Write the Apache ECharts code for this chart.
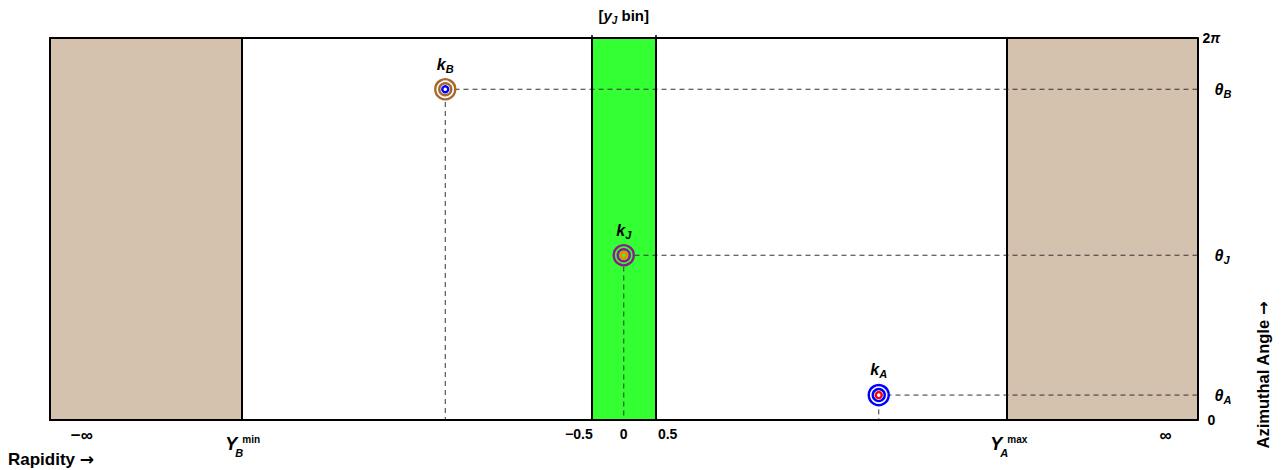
<!DOCTYPE html>
<html>
<head>
<meta charset="utf-8">
<script src="https://cdn.jsdelivr.net/npm/echarts@6/dist/echarts.min.js"></script>
<style>
  html, body { margin: 0; padding: 0; background: #ffffff; }
  #chart { width: 1285px; height: 470px; }
</style>
</head>
<body>
<div id="chart"></div>
<script>
// Particles in the (rapidity, azimuthal angle) plane
const particleNames = ['B', 'J', 'A'];
const particleRapidity = [-2.8, 0, 4];
const particleAzimuth = [5.44, 2.71, 0.41];

// Rapidity layout: drawn extent (stands for ±∞), acceptance limits, jet bin
const rapidityRange = [-9, 9];
const rapidityLimits = [-6, 6];
const limitSubscripts = ['B', 'A'];
const limitSuperscripts = ['min', 'max'];
const jetBin = [-0.5, 0.5];

// Rapidity tick labels
const rapidityTicks = [-8.5, -0.5, 0, 0.5, 8.5];
const rapidityTickLabels = ['−∞', '−0.5', '0', '0.5', '∞'];

// Azimuthal range
const azimuthRange = [0, 2 * Math.PI];

// Marker colours: outer rings, inner core, backdrop behind the rings
const ringColors = ['#A8692E', '#8E1A8E', '#0000FF'];
const coreColors = ['#0000FF', '#FF8000', '#FF0000'];
const backdropColors = ['#FFFFFF', '#33FF33', '#FFFFFF'];

const FONT = '"Liberation Sans", Arial, Helvetica, sans-serif';
const ARROW_FONT = '"DejaVu Sans", "Liberation Sans", sans-serif';
const BROWN = '#D5C2AE';
const GREEN = '#33FF33';

const points = particleNames.map((n, i) => [particleRapidity[i], particleAzimuth[i]]);
const azimuthTicks = [azimuthRange[0]].concat(particleAzimuth, [azimuthRange[1]]);

function azimuthLabel(value) {
  if (value === azimuthRange[0]) return '{z|0}';
  if (value === azimuthRange[1]) return '{n|2}{p|π}';
  const i = particleAzimuth.indexOf(value);
  return '{t|θ}{s|' + particleNames[i] + '}';
}

function rapidityLabel(value) {
  const i = rapidityTicks.indexOf(value);
  const t = rapidityTickLabels[i];
  if (value === jetBin[0]) return '{l|' + t + '}';
  if (value === jetBin[1]) return '{r|' + t + '}';
  if (t.indexOf('∞') >= 0) return '{inf|' + t + '}';
  return '{c|' + t + '}';
}

function ring(size, colors, z, withLabel) {
  return {
    type: 'scatter',
    silent: true,
    z: z,
    symbol: 'circle',
    symbolSize: size,
    data: points.map((p, i) => ({
      value: p,
      itemStyle: { color: backdropColors[i], borderColor: colors[i], borderWidth: 2.4, opacity: 1 }
    })),
    label: withLabel ? {
      show: true,
      position: 'top',
      distance: 4,
      formatter: (params) => '{k|k}{s|' + particleNames[params.dataIndex] + '}',
      rich: {
        k: { fontFamily: FONT, fontSize: 16, fontWeight: 'bold', fontStyle: 'italic', color: '#000', lineHeight: 20 },
        s: { fontFamily: FONT, fontSize: 11, fontWeight: 'bold', fontStyle: 'italic', color: '#000', lineHeight: 8, verticalAlign: 'bottom' }
      }
    } : { show: false }
  };
}

// Dashed guides from each particle to the azimuth axis and down to the rapidity axis
const guideSeries = points.map((p) => ({
  type: 'line',
  silent: true,
  z: 3,
  symbol: 'none',
  lineStyle: { color: '#333333', width: 1, type: [5, 4] },
  data: [[rapidityRange[1], p[1]], [p[0], p[1]], [p[0], azimuthRange[0]]]
}));

const axisLineStyle = { show: true, onZero: false, lineStyle: { color: '#000', width: 2 } };

const option = {
  animation: false,
  backgroundColor: '#ffffff',
  grid: { left: 50, right: 87.5, top: 38, bottom: 50, containLabel: false, outerBoundsMode: 'none' },
  xAxis: [
    {
      type: 'value', position: 'bottom', min: rapidityRange[0], max: rapidityRange[1], z: 10,
      axisLine: axisLineStyle,
      axisTick: { show: false },
      splitLine: { show: false },
      axisLabel: {
        customValues: rapidityTicks,
        margin: 7,
        formatter: rapidityLabel,
        rich: {
          c: { fontFamily: FONT, fontSize: 14, fontWeight: 'bold', color: '#000' },
          inf: { fontFamily: FONT, fontSize: 17, fontWeight: 'bold', color: '#000' },
          l: { fontFamily: FONT, fontSize: 14, fontWeight: 'bold', color: '#000', padding: [0, 26, 0, 0] },
          r: { fontFamily: FONT, fontSize: 14, fontWeight: 'bold', color: '#000', padding: [0, 0, 0, 24] }
        }
      }
    },
    {
      type: 'value', position: 'top', min: rapidityRange[0], max: rapidityRange[1], z: 10,
      axisLine: axisLineStyle,
      axisTick: { show: true, customValues: jetBin, length: 3, inside: false, lineStyle: { color: '#000', width: 1.5 } },
      splitLine: { show: false },
      axisLabel: { show: false }
    }
  ],
  yAxis: [
    {
      type: 'value', position: 'left', min: azimuthRange[0], max: azimuthRange[1], z: 10,
      axisLine: axisLineStyle,
      axisTick: { show: false },
      splitLine: { show: false },
      axisLabel: { show: false }
    },
    {
      type: 'value', position: 'right', min: azimuthRange[0], max: azimuthRange[1], z: 10,
      axisLine: axisLineStyle,
      axisTick: { show: false },
      splitLine: { show: false },
      axisLabel: {
        customValues: azimuthTicks,
        margin: 5,
        align: 'left',
        formatter: azimuthLabel,
        rich: {
          z: { fontFamily: FONT, fontSize: 14, fontWeight: 'bold', color: '#000', padding: [0, 0, 0, 5] },
          n: { fontFamily: FONT, fontSize: 14, fontWeight: 'bold', color: '#000' },
          p: { fontFamily: FONT, fontSize: 14, fontWeight: 'bold', fontStyle: 'italic', color: '#000' },
          t: { fontFamily: FONT, fontSize: 16, fontWeight: 'bold', fontStyle: 'italic', color: '#000', lineHeight: 20, padding: [0, 0, 0, 12] },
          s: { fontFamily: FONT, fontSize: 11, fontWeight: 'bold', fontStyle: 'italic', color: '#000', lineHeight: 8, verticalAlign: 'bottom' }
        }
      }
    }
  ],
  series: [
    {
      // Shaded rapidity regions and boundary lines
      type: 'line',
      silent: true,
      z: 1,
      data: [],
      markArea: {
        silent: true,
        data: [
          [{ xAxis: rapidityRange[0], itemStyle: { color: BROWN } }, { xAxis: rapidityLimits[0] }],
          [{ xAxis: rapidityLimits[1], itemStyle: { color: BROWN } }, { xAxis: rapidityRange[1] }],
          [{ xAxis: jetBin[0], itemStyle: { color: GREEN } }, { xAxis: jetBin[1] }]
        ]
      },
      markLine: {
        silent: true,
        symbol: ['none', 'none'],
        label: { show: false },
        lineStyle: { color: '#000', width: 2, type: 'solid' },
        data: [
          { xAxis: rapidityLimits[0] }, { xAxis: jetBin[0] },
          { xAxis: jetBin[1] }, { xAxis: rapidityLimits[1] }
        ]
      }
    }
  ].concat(guideSeries, [
    ring(20, ringColors, 5, true),
    ring(12, ringColors, 6, false),
    ring(6, coreColors, 7, false)
  ])
};

const chart = echarts.init(document.getElementById('chart'), null, { renderer: 'svg' });
chart.setOption(option);

// Text placed relative to the axes
const baseY = chart.convertToPixel({ yAxisIndex: 0 }, azimuthRange[0]);
const binX = chart.convertToPixel({ xAxisIndex: 0 }, 0);

function text(x, y, str, font, align, extra) {
  return Object.assign({
    type: 'text', x: x, y: y, silent: true, z: 20,
    style: { text: str, font: font, fill: '#000', textAlign: align || 'left', textVerticalAlign: 'middle', verticalAlign: 'middle' }
  }, extra || {});
}

function arrowLabel(x, y, str, size, align, extra) {
  return Object.assign({
    type: 'text', x: x, y: y, silent: true, z: 20,
    style: {
      text: '{w|' + str + ' }{a|→}',
      textAlign: align, textVerticalAlign: 'middle', verticalAlign: 'middle',
      rich: {
        w: { font: 'bold ' + size + 'px ' + FONT, fill: '#000', lineHeight: size + 4 },
        a: { font: 'bold ' + size + 'px ' + ARROW_FONT, fill: '#000', lineHeight: size + 4 }
      }
    }
  }, extra || {});
}

const graphics = [];
rapidityLimits.forEach((v, i) => {
  const px = chart.convertToPixel({ xAxisIndex: 0 }, v);
  graphics.push(text(px - 16, baseY + 24, 'Y', 'italic bold 18px ' + FONT));
  graphics.push(text(px + 1, baseY + 19, limitSuperscripts[i], 'bold 10px ' + FONT));
  graphics.push(text(px - 6, baseY + 33, limitSubscripts[i], 'italic bold 11px ' + FONT));
});

graphics.push({
  type: 'text', x: binX, y: 15, silent: true, z: 20,
  style: {
    text: '{a|[}{i|y}{s|J}{a| bin]}',
    textAlign: 'center', textVerticalAlign: 'middle', verticalAlign: 'middle',
    rich: {
      a: { font: 'bold 15px ' + FONT, fill: '#000', lineHeight: 20 },
      i: { font: 'italic bold 15px ' + FONT, fill: '#000', lineHeight: 20 },
      s: { font: 'italic bold 10px ' + FONT, fill: '#000', lineHeight: 8, verticalAlign: 'bottom' }
    }
  }
});

graphics.push(arrowLabel(8, 459, 'Rapidity', 17, 'left'));
graphics.push(arrowLabel(1263, 375, 'Azimuthal Angle', 16.5, 'center', { rotation: Math.PI / 2 }));

chart.setOption({ graphic: graphics });
</script>
</body>
</html>
